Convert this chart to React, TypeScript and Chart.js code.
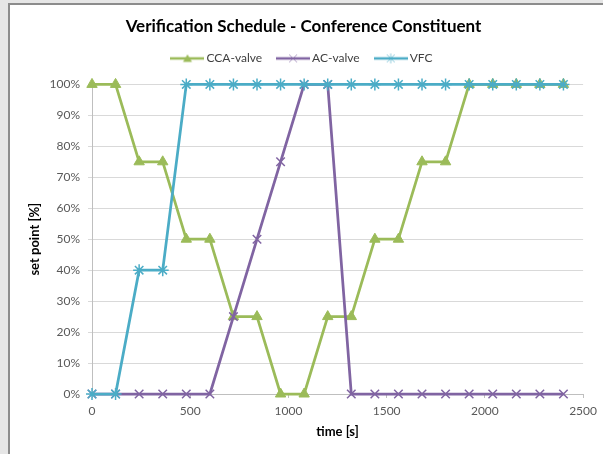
import React, { useEffect, useRef } from 'react';
import { Chart, registerables } from 'chart.js';

Chart.register(...registerables);

const TITLE = 'Verification Schedule - Conference Constituent';
const X_TITLE = 'time [s]';
const Y_TITLE = 'set point [%]';
const SERIES_NAMES = ['CCA-valve', 'AC-valve', 'VFC'];
const TIMES = [0, 120, 240, 360, 480, 600, 720, 840, 960, 1080, 1200, 1320, 1440, 1560, 1680, 1800, 1920, 2040, 2160, 2280, 2400];
const CCA_VALVE = [100, 100, 75, 75, 50, 50, 25, 25, 0, 0, 25, 25, 50, 50, 75, 75, 100, 100, 100, 100, 100];
const AC_VALVE = [0, 0, 0, 0, 0, 0, 25, 50, 75, 100, 100, 0, 0, 0, 0, 0, 0, 0, 0, 0, 0];
const VFC = [0, 0, 40, 40, 100, 100, 100, 100, 100, 100, 100, 100, 100, 100, 100, 100, 100, 100, 100, 100, 100];
const X_TICKS = [0, 500, 1000, 1500, 2000, 2500];
const Y_TICKS = [0, 10, 20, 30, 40, 50, 60, 70, 80, 90, 100];

const GREEN = '#9BBB59';
const PURPLE = '#8064A2';
const CYAN = '#4BACC6';
const FONT = 'Lato, "Open Sans", sans-serif';
const LEGEND_EXTRA = 10;

function legendIcon(color: string, style: string): HTMLCanvasElement {
  const c = document.createElement('canvas');
  c.width = 34;
  c.height = 14;
  const ctx = c.getContext('2d')!;
  ctx.strokeStyle = color;
  ctx.fillStyle = color;
  ctx.lineWidth = 2.5;
  ctx.beginPath();
  ctx.moveTo(0, 7);
  ctx.lineTo(34, 7);
  ctx.stroke();
  const cx = 17;
  const cy = 7;
  ctx.lineWidth = 1;
  if (style === 'triangle') {
    ctx.beginPath();
    ctx.moveTo(cx, cy - 4);
    ctx.lineTo(cx + 4.5, cy + 3.5);
    ctx.lineTo(cx - 4.5, cy + 3.5);
    ctx.closePath();
    ctx.fill();
  } else {
    ctx.globalAlpha = 0.6;
    ctx.beginPath();
    ctx.moveTo(cx - 4, cy - 4);
    ctx.lineTo(cx + 4, cy + 4);
    ctx.moveTo(cx - 4, cy + 4);
    ctx.lineTo(cx + 4, cy - 4);
    if (style === 'star') {
      ctx.moveTo(cx, cy - 5);
      ctx.lineTo(cx, cy + 5);
    }
    ctx.stroke();
  }
  return c;
}

const legendGap = {
  id: 'legendGap',
  beforeLayout(chart: any) {
    const lg = chart.legend;
    if (lg && !lg._gapPatched) {
      const orig = lg.fit;
      lg.fit = function () {
        orig.call(this);
        this.height += LEGEND_EXTRA;
      };
      lg._gapPatched = true;
    }
  },
};

export default function App() {
  const ref = useRef<HTMLCanvasElement | null>(null);

  useEffect(() => {
    if (!ref.current) return;
    const icons = [legendIcon(GREEN, 'triangle'), legendIcon(PURPLE, 'crossRot'), legendIcon(CYAN, 'star')];
    const toPts = (arr: number[]) => TIMES.map((t, i) => ({ x: t, y: arr[i] }));
    const chart = new Chart(ref.current, {
      type: 'line',
      data: {
        datasets: [
          {
            label: SERIES_NAMES[0],
            data: toPts(CCA_VALVE),
            borderColor: GREEN,
            backgroundColor: GREEN,
            borderWidth: 2.75,
            pointStyle: 'triangle',
            pointRadius: 6,
            pointBorderWidth: 1,
            pointBackgroundColor: GREEN,
            pointBorderColor: GREEN,
            tension: 0,
            clip: false,
            order: 2,
          },
          {
            label: SERIES_NAMES[1],
            data: toPts(AC_VALVE),
            borderColor: PURPLE,
            backgroundColor: PURPLE,
            borderWidth: 2.75,
            pointStyle: 'crossRot',
            pointRadius: 6,
            pointBorderWidth: 1.5,
            pointBorderColor: PURPLE,
            tension: 0,
            clip: false,
            order: 1,
          },
          {
            label: SERIES_NAMES[2],
            data: toPts(VFC),
            borderColor: CYAN,
            backgroundColor: CYAN,
            borderWidth: 2.75,
            pointStyle: 'star',
            pointRadius: 6,
            pointBorderWidth: 1.5,
            pointBorderColor: CYAN,
            tension: 0,
            clip: false,
            order: 0,
          },
        ],
      },
      options: {
        responsive: false,
        animation: false,
        devicePixelRatio: 1,
        layout: { padding: { left: 0, right: 6, top: 0, bottom: 0 } },
        font: { family: FONT },
        plugins: {
          title: {
            display: true,
            text: TITLE,
            color: '#000000',
            font: { family: FONT, size: 17, weight: 'bold' },
            padding: { top: 11, bottom: -2 },
          },
          legend: {
            display: true,
            position: 'top',
            labels: {
              usePointStyle: true,
              pointStyleWidth: 26,
              padding: 18,
              color: '#404040',
              font: { family: FONT, size: 12 },
              generateLabels: (ch: any) =>
                ch.data.datasets.map((ds: any, i: number) => ({
                  text: ds.label,
                  pointStyle: icons[i],
                  fillStyle: 'rgba(0,0,0,0)',
                  strokeStyle: 'rgba(0,0,0,0)',
                  lineWidth: 0,
                  hidden: false,
                  datasetIndex: i,
                  fontColor: '#404040',
                })),
            },
          },
          tooltip: { enabled: false },
        },
        scales: {
          x: {
            type: 'linear',
            min: X_TICKS[0],
            max: X_TICKS[X_TICKS.length - 1],
            afterBuildTicks: (s: any) => {
              s.ticks = X_TICKS.map((v) => ({ value: v }));
            },
            afterFit: (s: any) => {
              s.height = 60;
            },
            grid: { drawOnChartArea: false, drawTicks: true, tickLength: 4, color: '#bfbfbf' },
            border: { color: '#bfbfbf' },
            ticks: {
              padding: 6,
              color: '#595959',
              font: { family: FONT, size: 12 },
              maxRotation: 0,
              callback: (v: any) => String(v),
            },
            title: {
              display: true,
              text: X_TITLE,
              color: '#000000',
              font: { family: FONT, size: 13, weight: 'bold' },
              padding: { top: 0, bottom: 14 },
            },
          },
          y: {
            type: 'linear',
            min: Y_TICKS[0],
            max: Y_TICKS[Y_TICKS.length - 1],
            afterBuildTicks: (s: any) => {
              s.ticks = Y_TICKS.map((v) => ({ value: v }));
            },
            afterFit: (s: any) => {
              s.width = 82;
            },
            grid: { color: '#d9d9d9', drawTicks: true, tickLength: 4 },
            border: { color: '#bfbfbf' },
            ticks: {
              padding: 8,
              color: '#595959',
              font: { family: FONT, size: 12 },
              callback: (v: any) => v + '%',
            },
            title: {
              display: true,
              text: Y_TITLE,
              color: '#000000',
              font: { family: FONT, size: 13, weight: 'bold' },
              padding: { top: 17, bottom: 0 },
            },
          },
        },
      },
      plugins: [legendGap],
    } as any);
    return () => chart.destroy();
  }, []);

  return (
    <div style={{ position: 'fixed', inset: 0, background: '#e6e6e6', overflow: 'hidden' }}>
      <div
        style={{
          position: 'absolute',
          left: 8,
          top: 3,
          right: -10,
          bottom: -10,
          background: '#ffffff',
          borderLeft: '2px solid #8c8c8c',
          borderTop: '2px solid #8c8c8c',
        }}
      >
        <canvas ref={ref} width={593} height={449} style={{ display: 'block', width: 593, height: 449 }} />
      </div>
    </div>
  );
}
